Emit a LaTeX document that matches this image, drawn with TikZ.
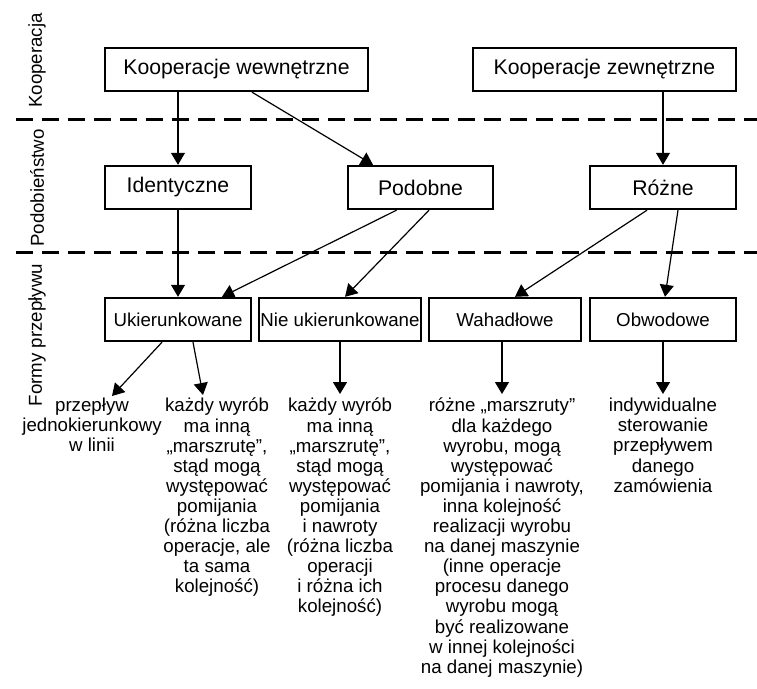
\documentclass[tikz,border=0pt]{standalone}
\usepackage{fontspec}
\setmainfont{Liberation Sans}
\usetikzlibrary{arrows.meta}

\begin{document}
\begin{tikzpicture}[x=1pt,y=-1pt,
  box/.style={draw, line width=2.4pt, inner sep=0pt, minimum height=43pt},
  big/.style={font=\fontsize{21.2}{25}\selectfont},
  small/.style={font=\fontsize{18.7}{20.1}\selectfont},
  arr/.style={line width=1.2pt, -{Triangle[width=14pt,length=12pt]}},
  sep/.style={dash pattern=on 17pt off 9pt, line width=3pt},
  desc/.style={small, align=center, anchor=north, inner sep=0pt,
    execute at begin node={\rule{0pt}{17pt}}},
  side/.style={small, rotate=90, inner sep=0pt}]
\useasboundingbox (0,0) rectangle (757,688);

% level separators
\draw[sep] (16,119) -- (757,119);
\draw[sep] (16,252) -- (757,252);

% level names
\node[side] (lk) at (37,60.5) {Kooperacja};
\node[side] (lp) at (37,188) {Podobieństwo};
\node[side] (lf) at (37,335) {Formy przepływu};

% cooperation
\node[box, big, minimum width=263pt] (kw) at (236.5,69.5) {Kooperacje wewnętrzne};
\node[box, big, minimum width=263pt] (kz) at (604.5,69.5) {Kooperacje zewnętrzne};

% similarity
\node[box, big, minimum width=146pt] (id)  at (178,187.5)   {Identyczne};
\node[box, big, minimum width=145pt] (pod) at (420.5,187.5) {Podobne};
\node[box, big, minimum width=146pt] (roz) at (663,187.5)   {Różne};

% flow forms
\node[box, small, minimum width=146pt] (uk)  at (178,319.5) {Ukierunkowane};
\node[box, small, minimum width=162pt] (nie) at (340,319.5) {Nie ukierunkowane};
\node[box, small, minimum width=152pt] (wah) at (505,319.5) {Wahadłowe};
\node[box, small, minimum width=146pt] (obw) at (663,319.5) {Obwodowe};

% descriptions (first baseline 17pt below the top)
\node[desc] (t1) at (92,398) {przepływ\\jednokierunkowy\\w linii};
\node[desc] (t2) at (217,398) {każdy wyrób\\ma inną\\„marszrutę”,\\stąd mogą\\występować\\pomijania\\(różna liczba\\operacje, ale\\ta sama\\kolejność)};
\node[desc] (t3) at (340,398) {każdy wyrób\\ma inną\\„marszrutę”,\\stąd mogą\\występować\\pomijania\\i nawroty\\(różna liczba\\operacji\\i różna ich\\kolejność)};
\node[desc] (t4) at (502,398) {różne „marszruty”\\dla każdego\\wyrobu, mogą\\występować\\pomijania i nawroty,\\inna kolejność\\realizacji wyrobu\\na danej maszynie\\(inne operacje\\procesu danego\\wyrobu mogą\\być realizowane\\w innej kolejności\\na danej maszynie)};
\node[desc] (t5) at (663,398) {indywidualne\\sterowanie\\przepływem\\danego\\zamówienia};

% connectors
\draw[arr] (kw.south -| id.north) -- (id.north);
\draw[arr] ([xshift=15.5pt]kw.south) -- ([xshift=-47.5pt]pod.north);
\draw[arr] (kz.south -| roz.north) -- (roz.north);
\draw[arr] (id.south) -- (uk.north);
\draw[arr] ([xshift=-24pt]pod.south) -- ([xshift=44pt]uk.north);
\draw[arr] ([xshift=8.5pt]pod.south) -- ([xshift=5pt]nie.north);
\draw[arr] ([xshift=-16pt]roz.south) -- ([xshift=10pt]wah.north);
\draw[arr] ([xshift=15pt]roz.south) -- ([xshift=2pt]obw.north);
\draw[arr] ([xshift=-16pt]uk.south) -- ([xshift=20pt,yshift=2pt]t1.north);
\draw[arr] ([xshift=15pt]uk.south) -- ([xshift=-14pt,yshift=3pt]t2.north);
\draw[arr] (nie.south) -- ([yshift=4pt]t3.north);
\draw[arr] (wah.south -| t4.north) -- ([yshift=4pt]t4.north);
\draw[arr] (obw.south) -- ([yshift=4pt]t5.north);
\end{tikzpicture}
\end{document}
